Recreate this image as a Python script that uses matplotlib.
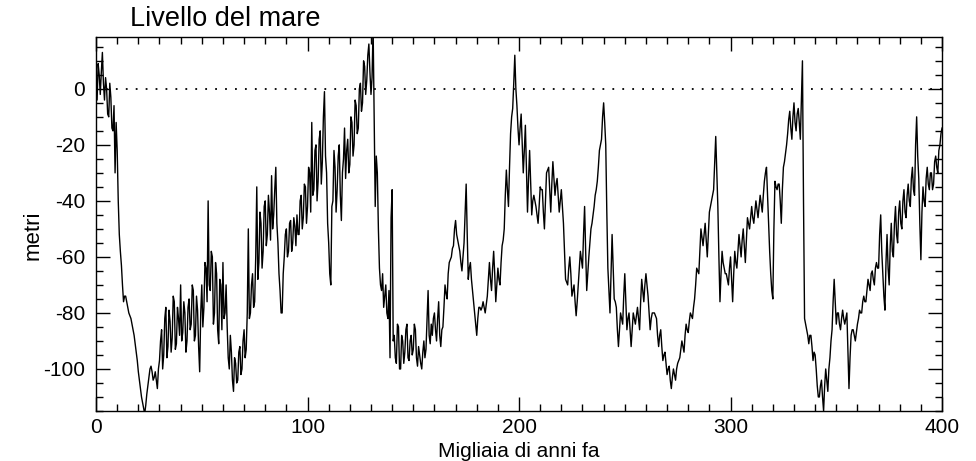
import matplotlib
matplotlib.use("Agg")
import matplotlib.pyplot as plt
from matplotlib.ticker import MultipleLocator
import numpy as np

plt.rcParams["font.family"] = ["Liberation Sans", "DejaVu Sans"]
plt.rcParams["axes.unicode_minus"] = False

# sea level (m) every 0.5 kyr, 0 .. 400 kyr ago
ages = np.arange(0, 400.5, 0.5)
sea_level = [
    3, -4, 9, 5, -2, 6, 13, 2, -4, 4,
    0, -9, -10, 2, -3, -14, -15, -6, -30, -12,
    -22, -40, -52, -58, -63, -70, -76, -74, -74, -76,
    -78, -80, -81, -82, -84, -86, -88, -91, -94, -97,
    -101, -104, -107, -110, -112, -114, -116, -113, -109, -106,
    -103, -100, -99, -101, -104, -103, -101, -104, -107, -100,
    -97, -90, -86, -100, -95, -82, -78, -96, -92, -79,
    -83, -94, -89, -74, -76, -93, -91, -78, -82, -88,
    -70, -90, -87, -76, -80, -94, -90, -78, -75, -86,
    -84, -70, -72, -90, -88, -74, -79, -92, -101, -80,
    -70, -85, -78, -62, -64, -76, -40, -70, -72, -58,
    -60, -84, -80, -62, -66, -86, -91, -68, -70, -86,
    -62, -82, -80, -70, -85, -96, -100, -88, -94, -104,
    -108, -96, -98, -105, -104, -94, -92, -102, -100, -90,
    -86, -96, -93, -80, -50, -82, -80, -70, -66, -78,
    -76, -60, -35, -68, -62, -44, -48, -64, -58, -42,
    -40, -56, -52, -38, -44, -54, -31, -50, -45, -36,
    -28, -48, -55, -66, -72, -80, -80, -66, -60, -52,
    -50, -60, -58, -48, -47, -58, -55, -46, -49, -56,
    -45, -52, -52, -40, -38, -50, -46, -34, -35, -48,
    -42, -28, -30, -44, -12, -38, -36, -22, -20, -40,
    -33, -18, -15, -34, -26, -10, -1, -24, -30, -48,
    -55, -66, -70, -42, -40, -22, -28, -44, -36, -24,
    -20, -38, -47, -30, -25, -14, -32, -22, -18, -30,
    -27, -10, -12, -24, -20, -4, -6, -16, -14, 0,
    2, -8, -5, 10, 8, -2, 3, 12, 16, 6,
    -2, 4, 22, -10, -42, -24, -30, -50, -64, -70,
    -72, -66, -78, -74, -70, -80, -82, -72, -96, -46,
    -36, -90, -88, -96, -98, -84, -85, -100, -100, -88,
    -90, -98, -94, -86, -84, -96, -97, -90, -88, -95,
    -93, -84, -86, -96, -99, -92, -95, -98, -100, -94,
    -90, -96, -93, -82, -72, -88, -91, -84, -88, -82,
    -80, -86, -90, -82, -76, -88, -92, -86, -85, -78,
    -70, -73, -75, -66, -62, -61, -60, -57, -56, -50,
    -47, -52, -54, -56, -58, -62, -65, -60, -55, -44,
    -34, -52, -68, -64, -62, -68, -72, -76, -80, -84,
    -88, -82, -78, -78, -79, -78, -76, -78, -80, -77,
    -74, -68, -62, -68, -72, -64, -58, -66, -76, -70,
    -64, -68, -70, -62, -56, -54, -50, -38, -29, -36,
    -42, -28, -16, -10, -7, 2, 12, 0, -6, -14,
    -20, -14, -9, -20, -30, -22, -13, -28, -44, -32,
    -22, -34, -45, -40, -38, -40, -42, -45, -48, -42,
    -35, -36, -36, -44, -50, -40, -30, -29, -28, -36,
    -44, -34, -26, -32, -38, -34, -32, -38, -44, -40,
    -36, -42, -48, -58, -68, -69, -70, -64, -60, -66,
    -74, -72, -70, -76, -81, -76, -70, -64, -58, -61,
    -64, -52, -42, -58, -72, -66, -60, -55, -50, -48,
    -45, -42, -38, -36, -33, -28, -22, -20, -18, -10,
    -5, -12, -20, -44, -64, -72, -80, -66, -52, -64,
    -75, -76, -78, -86, -92, -86, -80, -82, -84, -74,
    -66, -76, -86, -82, -80, -86, -92, -86, -80, -82,
    -84, -81, -78, -82, -86, -76, -68, -72, -76, -70,
    -66, -70, -74, -80, -86, -82, -80, -80, -80, -81,
    -82, -88, -92, -88, -86, -92, -97, -95, -94, -98,
    -102, -100, -99, -104, -107, -103, -100, -102, -104, -100,
    -98, -97, -96, -93, -90, -92, -94, -88, -84, -86,
    -87, -83, -80, -81, -82, -78, -75, -70, -64, -65,
    -66, -58, -50, -53, -56, -52, -48, -54, -60, -52,
    -44, -42, -40, -38, -36, -26, -17, -30, -42, -60,
    -76, -66, -58, -62, -64, -66, -66, -68, -70, -64,
    -60, -68, -76, -66, -58, -62, -64, -58, -52, -56,
    -60, -54, -50, -56, -62, -54, -46, -48, -50, -46,
    -42, -46, -48, -44, -40, -43, -46, -42, -38, -41,
    -44, -38, -33, -30, -28, -38, -48, -58, -66, -72,
    -75, -50, -33, -35, -36, -34, -34, -40, -48, -36,
    -28, -26, -23, -20, -16, -11, -8, -14, -18, -10,
    -5, -12, -15, -9, -7, -12, -18, -4, 10, -40,
    -82, -84, -86, -88, -91, -88, -88, -92, -97, -94,
    -95, -100, -106, -110, -110, -106, -104, -110, -115, -106,
    -100, -104, -108, -100, -96, -90, -86, -76, -68, -76,
    -84, -80, -80, -84, -86, -82, -79, -82, -84, -82,
    -80, -94, -107, -96, -88, -86, -86, -88, -90, -87,
    -84, -82, -79, -80, -80, -76, -74, -76, -76, -72,
    -68, -70, -72, -66, -65, -68, -70, -64, -62, -64,
    -64, -52, -45, -58, -66, -74, -79, -62, -52, -64,
    -70, -56, -48, -58, -60, -48, -42, -52, -55, -44,
    -40, -48, -50, -40, -36, -44, -46, -38, -34, -40,
    -42, -32, -28, -36, -38, -20, -10, -24, -32, -48,
    -61, -44, -35, -40, -42, -32, -28, -34, -36, -30,
    -30, -36, -34, -26, -24, -28, -30, -22, -20, -16,
    -14,
]

fig = plt.figure(figsize=(9.76, 4.61), dpi=100)
ax = fig.add_axes([0.0984, 0.1085, 0.8668, 0.8112])

ax.plot(ages, sea_level, color="black", linewidth=1.0)
ax.plot([0, 400], [0, 0], color="black", linewidth=1.3, linestyle=(0, (1, 4.5)))

ax.set_xlim(0, 400)
ax.set_ylim(-115, 18.5)
ax.xaxis.set_major_locator(MultipleLocator(100))
ax.xaxis.set_minor_locator(MultipleLocator(10))
ax.yaxis.set_major_locator(MultipleLocator(20))
ax.yaxis.set_minor_locator(MultipleLocator(5))
ax.tick_params(which="both", direction="in", top=True, right=True, width=1, labelsize=15)
ax.tick_params(which="major", length=10)
ax.tick_params(which="minor", length=5)
ax.tick_params(axis="y", which="major", pad=8)
ax.tick_params(axis="x", which="major", pad=5)
for s in ax.spines.values():
    s.set_linewidth(1)

ax.set_xlabel("Migliaia di anni fa", fontsize=15)
ax.xaxis.set_label_coords(0.5, -0.083)
ax.set_ylabel("metri", fontsize=16)
ax.yaxis.set_label_coords(-0.062, 0.47)
fig.text(0.133, 0.958, "Livello del mare", fontsize=19.5, va="center", ha="left")

fig.savefig("out.png", dpi=100)
